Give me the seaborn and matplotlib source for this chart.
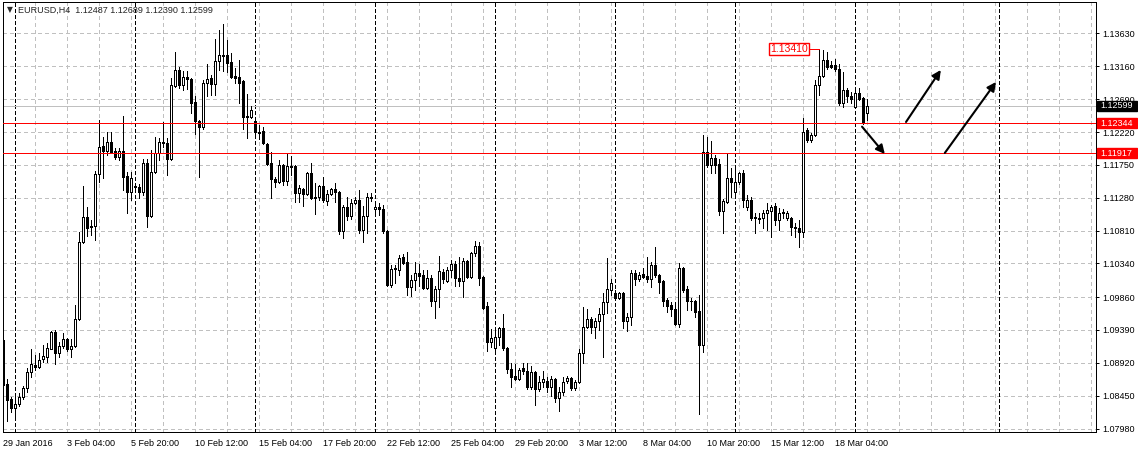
import numpy as np
import pandas as pd
import matplotlib
matplotlib.use("Agg")
import matplotlib.pyplot as plt
import matplotlib.transforms as mtransforms
from matplotlib.patches import Rectangle
import seaborn as sns

# EURUSD H4 bars, first bar is Fri 29 Jan 2016 12:00
symbol = "EURUSD,H4"
first_bar = "2016-01-29 12:00"

opens = [
    1.0925, 1.0862, 1.0840, 1.0828, 1.0833, 1.0843, 1.0856, 1.0879, 1.0889, 1.0886,
    1.0898, 1.0900, 1.0912, 1.0936, 1.0906, 1.0916, 1.0926, 1.0912, 1.0916, 1.0955,
    1.1065, 1.1101, 1.1087, 1.1088, 1.1162, 1.1202, 1.1195, 1.1208, 1.1195, 1.1187,
    1.1195, 1.1159, 1.1136, 1.1145, 1.1144, 1.1136, 1.1178, 1.1102, 1.1165, 1.1192,
    1.1208, 1.1207, 1.1184, 1.1288, 1.1311, 1.1289, 1.1301, 1.1298, 1.1265, 1.1238,
    1.1229, 1.1292, 1.1300, 1.1291, 1.1324, 1.1332, 1.1332, 1.1322, 1.1302, 1.1301,
    1.1295, 1.1244, 1.1244, 1.1238, 1.1222, 1.1223, 1.1205, 1.1178, 1.1155, 1.1151,
    1.1175, 1.1152, 1.1173, 1.1174, 1.1135, 1.1141, 1.1134, 1.1164, 1.1128, 1.1129,
    1.1145, 1.1124, 1.1134, 1.1141, 1.1136, 1.1081, 1.1115, 1.1102, 1.1121, 1.1125,
    1.1082, 1.1102, 1.1129, 1.1112, 1.1115, 1.1112, 1.1081, 1.1003, 1.1026, 1.1025,
    1.1043, 1.1036, 1.1001, 1.1011, 1.1021, 1.1018, 1.0999, 1.1013, 1.0981, 1.0998,
    1.1022, 1.1009, 1.1025, 1.1033, 1.1013, 1.1009, 1.1038, 1.1015, 1.1049, 1.1059,
    1.1015, 1.0973, 1.0922, 1.0913, 1.0929, 1.0942, 1.0913, 1.0883, 1.0873, 1.0869,
    1.0885, 1.0880, 1.0858, 1.0879, 1.0855, 1.0865, 1.0866, 1.0858, 1.0869, 1.0842,
    1.0850, 1.0866, 1.0870, 1.0856, 1.0865, 1.0906, 1.0943, 1.0955, 1.0943, 1.0952,
    1.0962, 1.0979, 1.0996, 1.0992, 1.0985, 1.0992, 1.0952, 1.0958, 1.1021, 1.1012,
    1.1019, 1.1016, 1.1012, 1.1032, 1.1018, 1.1009, 1.0982, 1.0975, 1.0969, 1.0948,
    1.1028, 1.0998, 1.0981, 1.0980, 1.0966, 1.0918, 1.1194, 1.1175, 1.1185, 1.1176,
    1.1109, 1.1122, 1.1156, 1.1136, 1.1151, 1.1164, 1.1115, 1.1125, 1.1101, 1.1099,
    1.1099, 1.1106, 1.1109, 1.1116, 1.1096, 1.1108, 1.1099, 1.1099, 1.1086, 1.1085,
    1.1079, 1.1225, 1.1211, 1.1218, 1.1289, 1.1302, 1.1325, 1.1318, 1.1318, 1.1312,
    1.1264, 1.1282, 1.1274, 1.1258, 1.1278, 1.1271, 1.12487,
]
highs = [
    1.0928, 1.0869, 1.0843, 1.0843, 1.0849, 1.0859, 1.0885, 1.0912, 1.0903, 1.0906,
    1.0918, 1.0921, 1.0938, 1.0939, 1.0922, 1.0935, 1.0928, 1.0926, 1.0975, 1.1079,
    1.1145, 1.1115, 1.1096, 1.1166, 1.1239, 1.1215, 1.1222, 1.1222, 1.1199, 1.1199,
    1.1245, 1.1165, 1.1165, 1.1146, 1.1148, 1.1184, 1.1184, 1.1197, 1.1215, 1.1214,
    1.1237, 1.1214, 1.1299, 1.1337, 1.1315, 1.1310, 1.1310, 1.1300, 1.1274, 1.1239,
    1.1297, 1.1320, 1.1304, 1.1355, 1.1368, 1.1377, 1.1354, 1.1335, 1.1314, 1.1325,
    1.1297, 1.1277, 1.1259, 1.1242, 1.1232, 1.1229, 1.1207, 1.1194, 1.1157, 1.1182,
    1.1176, 1.1192, 1.1188, 1.1175, 1.1146, 1.1142, 1.1165, 1.1178, 1.1149, 1.1146,
    1.1157, 1.1139, 1.1142, 1.1149, 1.1137, 1.1118, 1.1129, 1.1126, 1.1129, 1.1139,
    1.1116, 1.1135, 1.1135, 1.1124, 1.1121, 1.1118, 1.1082, 1.1032, 1.1032, 1.1046,
    1.1048, 1.1051, 1.1018, 1.1036, 1.1033, 1.1025, 1.1025, 1.1018, 1.1002, 1.1045,
    1.1026, 1.1029, 1.1039, 1.1038, 1.1043, 1.1042, 1.1039, 1.1051, 1.1066, 1.1065,
    1.1016, 1.0979, 1.0941, 1.0942, 1.0943, 1.0962, 1.0914, 1.0892, 1.0890, 1.0885,
    1.0892, 1.0892, 1.0888, 1.0880, 1.0873, 1.0880, 1.0872, 1.0873, 1.0870, 1.0858,
    1.0872, 1.0873, 1.0872, 1.0868, 1.0911, 1.0972, 1.0969, 1.0958, 1.0956, 1.0971,
    1.0992, 1.1042, 1.1012, 1.0996, 1.0993, 1.0993, 1.0963, 1.1025, 1.1025, 1.1022,
    1.1028, 1.1043, 1.1036, 1.1058, 1.1019, 1.1011, 1.0985, 1.0979, 1.0979, 1.1035,
    1.1029, 1.1002, 1.0985, 1.0982, 1.0989, 1.1218, 1.1215, 1.1209, 1.1189, 1.1184,
    1.1126, 1.1192, 1.1171, 1.1175, 1.1165, 1.1168, 1.1132, 1.1129, 1.1106, 1.1106,
    1.1111, 1.1121, 1.1118, 1.1121, 1.1114, 1.1112, 1.1109, 1.1101, 1.1092, 1.1096,
    1.1242, 1.1228, 1.1221, 1.1297, 1.1341, 1.1339, 1.1337, 1.1324, 1.1327, 1.1320,
    1.1308, 1.1285, 1.1279, 1.1287, 1.1285, 1.1272, 1.12689,
]
lows = [
    1.0858, 1.0809, 1.0822, 1.0813, 1.0830, 1.0840, 1.0850, 1.0872, 1.0882, 1.0884,
    1.0893, 1.0893, 1.0911, 1.0890, 1.0900, 1.0913, 1.0909, 1.0900, 1.0915, 1.0953,
    1.1064, 1.1074, 1.1075, 1.1068, 1.1151, 1.1156, 1.1189, 1.1192, 1.1184, 1.1182,
    1.1139, 1.1106, 1.1125, 1.1141, 1.1128, 1.1132, 1.1086, 1.1101, 1.1164, 1.1182,
    1.1201, 1.1161, 1.1182, 1.1287, 1.1285, 1.1282, 1.1284, 1.1249, 1.1219, 1.1158,
    1.1226, 1.1274, 1.1275, 1.1275, 1.1311, 1.1310, 1.1308, 1.1300, 1.1292, 1.1264,
    1.1226, 1.1214, 1.1242, 1.1214, 1.1212, 1.1205, 1.1175, 1.1128, 1.1144, 1.1149,
    1.1146, 1.1146, 1.1161, 1.1122, 1.1122, 1.1116, 1.1132, 1.1126, 1.1105, 1.1125,
    1.1122, 1.1118, 1.1132, 1.1122, 1.1076, 1.1071, 1.1096, 1.1098, 1.1119, 1.1078,
    1.1065, 1.1078, 1.1124, 1.1104, 1.1104, 1.1078, 1.1002, 1.1001, 1.1006, 1.1018,
    1.1033, 1.0989, 1.0988, 1.0996, 1.1002, 1.0998, 1.0998, 1.0973, 1.0956, 1.0972,
    1.1006, 1.1008, 1.1015, 1.1002, 1.1002, 1.0986, 1.1013, 1.1013, 1.1045, 1.1003,
    1.0969, 1.0909, 1.0915, 1.0909, 1.0918, 1.0910, 1.0878, 1.0858, 1.0868, 1.0868,
    1.0876, 1.0855, 1.0855, 1.0832, 1.0852, 1.0858, 1.0850, 1.0845, 1.0836, 1.0823,
    1.0846, 1.0863, 1.0853, 1.0853, 1.0863, 1.0892, 1.0942, 1.0935, 1.0928, 1.0939,
    1.0900, 1.0963, 1.0989, 1.0982, 1.0983, 1.0942, 1.0938, 1.0946, 1.1003, 1.1009,
    1.1013, 1.1008, 1.1001, 1.1015, 1.0992, 1.0973, 1.0965, 1.0959, 1.0946, 1.0943,
    1.0993, 1.0968, 1.0968, 1.0958, 1.0819, 1.0908, 1.1172, 1.1164, 1.1164, 1.1104,
    1.1078, 1.1121, 1.1129, 1.1129, 1.1148, 1.1115, 1.1111, 1.1096, 1.1078, 1.1092,
    1.1085, 1.1082, 1.1072, 1.1089, 1.1082, 1.1099, 1.1096, 1.1075, 1.1072, 1.1058,
    1.1072, 1.1208, 1.1208, 1.1217, 1.1275, 1.1301, 1.1312, 1.1314, 1.1310, 1.1261,
    1.1258, 1.1265, 1.1264, 1.1257, 1.1268, 1.1234, 1.12390,
]
closes = [
    1.0860, 1.0839, 1.0828, 1.0833, 1.0843, 1.0856, 1.0879, 1.0890, 1.0886, 1.0896,
    1.0902, 1.0913, 1.0936, 1.0906, 1.0916, 1.0926, 1.0911, 1.0916, 1.0955, 1.1065,
    1.1101, 1.1085, 1.1086, 1.1162, 1.1201, 1.1195, 1.1208, 1.1194, 1.1187, 1.1195,
    1.1158, 1.1136, 1.1156, 1.1144, 1.1136, 1.1178, 1.1102, 1.1165, 1.1192, 1.1208,
    1.1207, 1.1184, 1.1289, 1.1311, 1.1289, 1.1301, 1.1298, 1.1264, 1.1238, 1.1229,
    1.1292, 1.1298, 1.1291, 1.1324, 1.1332, 1.1331, 1.1321, 1.1301, 1.1300, 1.1292,
    1.1244, 1.1245, 1.1254, 1.1222, 1.1221, 1.1207, 1.1176, 1.1155, 1.1151, 1.1175,
    1.1152, 1.1173, 1.1172, 1.1135, 1.1142, 1.1134, 1.1164, 1.1128, 1.1129, 1.1145,
    1.1125, 1.1134, 1.1141, 1.1136, 1.1081, 1.1115, 1.1102, 1.1121, 1.1125, 1.1082,
    1.1102, 1.1129, 1.1128, 1.1115, 1.1112, 1.1081, 1.1003, 1.1026, 1.1028, 1.1042,
    1.1035, 1.1001, 1.1011, 1.1021, 1.1016, 1.0999, 1.1013, 1.0981, 1.0998, 1.1023,
    1.1012, 1.1025, 1.1033, 1.1013, 1.1009, 1.1038, 1.1015, 1.1049, 1.1059, 1.1013,
    1.0971, 1.0922, 1.0928, 1.0929, 1.0942, 1.0913, 1.0883, 1.0872, 1.0869, 1.0882,
    1.0880, 1.0858, 1.0879, 1.0855, 1.0865, 1.0869, 1.0858, 1.0869, 1.0842, 1.0850,
    1.0865, 1.0870, 1.0856, 1.0865, 1.0906, 1.0943, 1.0955, 1.0943, 1.0952, 1.0962,
    1.0979, 1.0998, 1.1006, 1.0985, 1.0992, 1.0952, 1.0958, 1.1021, 1.1012, 1.1018,
    1.1015, 1.1012, 1.1032, 1.1018, 1.1008, 1.0981, 1.0973, 1.0969, 1.0948, 1.1028,
    1.0996, 1.0981, 1.0980, 1.0965, 1.0918, 1.1194, 1.1175, 1.1185, 1.1175, 1.1109,
    1.1124, 1.1156, 1.1151, 1.1151, 1.1164, 1.1125, 1.1125, 1.1099, 1.1099, 1.1098,
    1.1106, 1.1111, 1.1115, 1.1096, 1.1106, 1.1106, 1.1106, 1.1086, 1.1085, 1.1079,
    1.1222, 1.1211, 1.1218, 1.1289, 1.1302, 1.1325, 1.1315, 1.1315, 1.1312, 1.1264,
    1.1282, 1.1274, 1.1269, 1.1278, 1.1269, 1.1236, 1.12599,
]

time_labels = ["29 Jan 2016", "3 Feb 04:00", "5 Feb 20:00", "10 Feb 12:00",
               "15 Feb 04:00", "17 Feb 20:00", "22 Feb 12:00", "25 Feb 04:00",
               "29 Feb 20:00", "3 Mar 12:00", "8 Mar 04:00", "10 Mar 20:00",
               "15 Mar 12:00", "18 Mar 04:00"]
price_ticks = [1.13630, 1.13160, 1.12690, 1.12220, 1.11750, 1.11280, 1.10810,
               1.10340, 1.09860, 1.09390, 1.08920, 1.08450, 1.07980]

bid = 1.12599
levels = [1.12344, 1.11917]
peak_price = 1.13410
peak_bar = 204

# hand drawn arrows on the chart: (bar, price) -> (bar, price)
arrows = [
    ((214.7, 1.12297), (220.4, 1.11906)),
    ((225.7, 1.12364), (234.4, 1.13108)),
    ((235.4, 1.11921), (248.2, 1.12936)),
]

o = np.array(opens)
h = np.array(highs)
l = np.array(lows)
c = np.array(closes)
n = len(c)
idx = np.arange(n)

times = pd.date_range(first_bar, periods=2 * n, freq="4h")
times = times[times.dayofweek < 5][:n]
week_starts = list(np.where((times.dayofweek == 0) & (times.hour == 0))[0])
week_starts.append(249)  # separator drawn in the empty area on the right

sns.set_style("white")
plt.rcParams["font.family"] = ["Liberation Sans", "DejaVu Sans"]
plt.rcParams["lines.scale_dashes"] = False

W, H = 1138, 453
fig = plt.figure(figsize=(W / 100, H / 100), dpi=100)
ax = fig.add_axes([3 / W, 21 / H, 1093 / W, 430 / H])
ax.set_xlim(-0.08, 273.2)
ax.set_ylim(1.07930, 1.14080)
px = 0.72  # one pixel in points

# grid
for v in price_ticks:
    ax.axhline(v, color="#c0c0c0", lw=px, dashes=(2.2, 2.2), zorder=0, antialiased=False)
for xg in range(8, 274, 8):
    ax.axvline(xg, color="#c0c0c0", lw=px, dashes=(2.2, 2.2), zorder=0, antialiased=False)
for ws in week_starts:
    ax.axvline(ws, color="black", lw=px, dashes=(2.2, 1.45), zorder=1, antialiased=False)

ax.axhline(bid, color="#c0c0c0", lw=px, zorder=1, antialiased=False)

# candles
ax.vlines(idx, l, h, color="black", lw=px, zorder=3, antialiased=False)
up = c >= o
bottom = np.minimum(o, c)
height = np.abs(c - o)
ax.bar(idx[up], height[up], bottom=bottom[up], width=0.5, facecolor="white",
       edgecolor="black", lw=px, zorder=4, antialiased=False)
ax.bar(idx[~up], height[~up], bottom=bottom[~up], width=0.5, facecolor="black",
       edgecolor="black", lw=px, zorder=4, antialiased=False)

for lv in levels:
    ax.axhline(lv, color="red", lw=px, zorder=5, antialiased=False)

# high label
ax.plot([201.5, peak_bar], [peak_price, peak_price], color="red", lw=px, zorder=5,
        antialiased=False)
ax.text(201.2, peak_price, f"{peak_price:.5f}", color="red", fontsize=7.5,
        ha="right", va="center", zorder=6,
        bbox=dict(boxstyle="square,pad=0.12", facecolor="white", edgecolor="red", lw=1.0))

for start, end in arrows:
    ax.annotate("", xy=end, xytext=start,
                arrowprops=dict(arrowstyle="-|>", color="black", lw=1.5,
                                mutation_scale=13, shrinkA=0, shrinkB=0),
                zorder=7)

# axes look
for sp in ax.spines.values():
    sp.set_color("black")
    sp.set_linewidth(px)
    sp.set_antialiased(False)
ax.yaxis.tick_right()
ax.set_yticks(price_ticks)
ax.set_yticklabels([f"{v:.5f}" for v in price_ticks])
xt = list(range(0, 273, 8))
ax.set_xticks(xt)
ax.set_xticklabels([time_labels[t // 16] if t % 16 == 0 and t // 16 < len(time_labels) else ""
                    for t in xt])
ax.tick_params(axis="y", direction="out", length=2.2, width=px, pad=2,
               labelsize=6.5, colors="black")
ax.tick_params(axis="x", direction="out", length=2.9, width=px, pad=2,
               labelsize=6.5, colors="black")
for lab in ax.get_xticklabels():
    lab.set_ha("left")

# price boxes on the scale
blend = mtransforms.blended_transform_factory(fig.transFigure, ax.transData)
box_h = 10 * (1.14080 - 1.07930) / 430
for price, col in [(bid, "black"), (levels[0], "red"), (levels[1], "red")]:
    ax.add_patch(Rectangle((1097 / W, price - box_h / 2), 40 / W, box_h,
                           transform=blend, facecolor=col, edgecolor=col,
                           clip_on=False, zorder=8))
    ax.text(1100.5 / W, price, f"{price:.5f}", transform=blend, color="white",
            fontsize=6.5, ha="left", va="center", clip_on=False, zorder=9)

fig.text(6.5 / W, 1 - 10 / H, "\u25bc", fontsize=5.5, family="DejaVu Sans",
         va="center", ha="left")
fig.text(18 / W, 1 - 10 / H,
         f"{symbol}  {opens[-1]:.5f} {highs[-1]:.5f} {lows[-1]:.5f} {closes[-1]:.5f}",
         fontsize=6.5, va="center", ha="left")

fig.savefig("out.png", dpi=100, facecolor="white")
